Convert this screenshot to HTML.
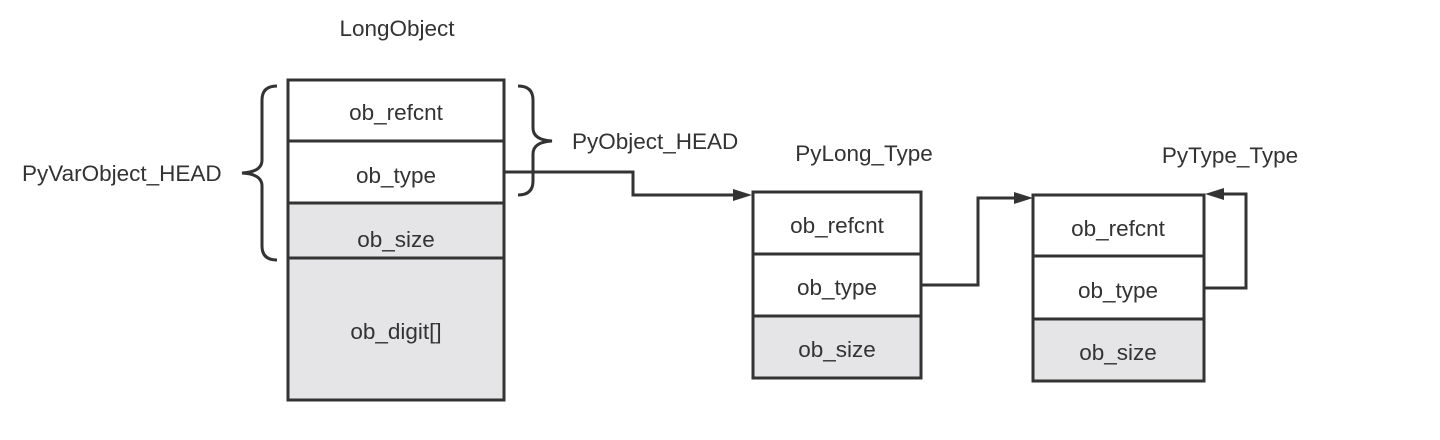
<!DOCTYPE html>
<html><head><style>body{margin:0;background:#fff}</style></head><body>
<svg width="1440" height="435" xmlns="http://www.w3.org/2000/svg" font-family="Liberation Sans, sans-serif" font-size="22.5" fill="#333">
<g stroke="#333" stroke-width="3">
<rect x="288" y="80" width="216" height="123" fill="#fff"/>
<rect x="288" y="203" width="216" height="197" fill="#e5e5e7"/>
<line x1="288" y1="141" x2="504" y2="141"/><line x1="288" y1="258" x2="504" y2="258"/>
<rect x="753" y="192" width="168" height="124" fill="#fff"/>
<rect x="753" y="316" width="168" height="62" fill="#e5e5e7"/>
<line x1="753" y1="254" x2="921" y2="254"/>
<rect x="1033" y="195" width="171" height="124" fill="#fff"/>
<rect x="1033" y="319" width="171" height="62" fill="#e5e5e7"/>
<line x1="1033" y1="256" x2="1204" y2="256"/>
<g fill="none">
<path d="M277,86 Q262,86 262,100 L262,160 Q262,172 242,173 Q262,174 262,186 L262,246 Q262,260 277,260"/>
<path d="M518,86 Q533,86 533,100 L533,128 Q533,140 552,141 Q533,142 533,154 L533,181 Q533,195 518,195"/>
<polyline points="504,172 633,172 633,195 735,195"/>
<polyline points="921,285 978,285 978,198 1015,198"/>
<polyline points="1204,288 1246,288 1246,194 1222,194"/>
</g></g>
<g fill="#333"><path d="M752,195 L733,189 L733,201z"/><path d="M1033,198 L1014,192 L1014,204z"/><path d="M1205,194 L1224,188 L1224,200z"/></g>
<g text-anchor="middle">
<text x="397" y="36">LongObject</text>
<text x="396" y="120">ob_refcnt</text><text x="396" y="183">ob_type</text><text x="396" y="247">ob_size</text><text x="396" y="339">ob_digit[]</text>
<text x="864" y="161">PyLong_Type</text>
<text x="837" y="233">ob_refcnt</text><text x="837" y="295">ob_type</text><text x="837" y="357">ob_size</text>
<text x="1230" y="163">PyType_Type</text>
<text x="1118" y="236">ob_refcnt</text><text x="1118" y="298">ob_type</text><text x="1118" y="360">ob_size</text>
</g>
<text x="22" y="181">PyVarObject_HEAD</text>
<text x="572" y="149">PyObject_HEAD</text>
</svg>
</body></html>
